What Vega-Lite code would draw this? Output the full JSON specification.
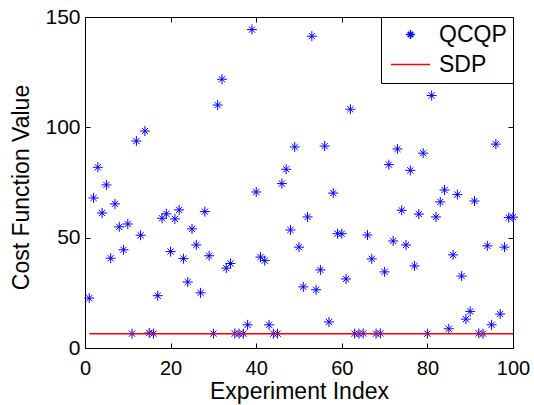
{
  "$schema": "https://vega.github.io/schema/vega-lite/v6.json",
  "width": 428,
  "height": 331,
  "autosize": {"type": "none"},
  "padding": {"left": 85, "top": 17, "right": 21, "bottom": 57},
  "background": "white",
  "config": {
    "font": "Liberation Sans",
    "view": {"stroke": "black", "strokeWidth": 1},
    "axis": {
      "grid": false,
      "domainColor": "black",
      "tickColor": "black",
      "tickSize": -5,
      "labelColor": "black",
      "titleColor": "black",
      "labelFont": "Liberation Sans",
      "titleFont": "Liberation Sans",
      "labelFontSize": 21,
      "titleFontSize": 23,
      "titleFontWeight": "normal"
    },
    "legend": {
      "labelFont": "Liberation Sans",
      "labelFontSize": 23,
      "labelColor": "black"
    }
  },
  "data": {
    "values": [
      {"i": 1, "v": 22.6, "s": "QCQP"},
      {"i": 2, "v": 68.0, "s": "QCQP"},
      {"i": 3, "v": 81.9, "s": "QCQP"},
      {"i": 4, "v": 61.2, "s": "QCQP"},
      {"i": 5, "v": 73.9, "s": "QCQP"},
      {"i": 6, "v": 40.7, "s": "QCQP"},
      {"i": 7, "v": 65.3, "s": "QCQP"},
      {"i": 8, "v": 54.9, "s": "QCQP"},
      {"i": 9, "v": 44.5, "s": "QCQP"},
      {"i": 10, "v": 56.2, "s": "QCQP"},
      {"i": 11, "v": 6.5, "s": "QCQP"},
      {"i": 12, "v": 93.8, "s": "QCQP"},
      {"i": 13, "v": 51.1, "s": "QCQP"},
      {"i": 14, "v": 98.3, "s": "QCQP"},
      {"i": 15, "v": 6.8, "s": "QCQP"},
      {"i": 16, "v": 6.5, "s": "QCQP"},
      {"i": 17, "v": 23.7, "s": "QCQP"},
      {"i": 18, "v": 58.8, "s": "QCQP"},
      {"i": 19, "v": 60.8, "s": "QCQP"},
      {"i": 20, "v": 43.7, "s": "QCQP"},
      {"i": 21, "v": 58.5, "s": "QCQP"},
      {"i": 22, "v": 62.6, "s": "QCQP"},
      {"i": 23, "v": 40.5, "s": "QCQP"},
      {"i": 24, "v": 29.9, "s": "QCQP"},
      {"i": 25, "v": 54.0, "s": "QCQP"},
      {"i": 26, "v": 46.7, "s": "QCQP"},
      {"i": 27, "v": 25.0, "s": "QCQP"},
      {"i": 28, "v": 61.8, "s": "QCQP"},
      {"i": 29, "v": 41.8, "s": "QCQP"},
      {"i": 30, "v": 6.5, "s": "QCQP"},
      {"i": 31, "v": 110.1, "s": "QCQP"},
      {"i": 32, "v": 121.8, "s": "QCQP"},
      {"i": 33, "v": 36.2, "s": "QCQP"},
      {"i": 34, "v": 38.3, "s": "QCQP"},
      {"i": 35, "v": 6.6, "s": "QCQP"},
      {"i": 36, "v": 6.5, "s": "QCQP"},
      {"i": 37, "v": 6.5, "s": "QCQP"},
      {"i": 38, "v": 10.5, "s": "QCQP"},
      {"i": 39, "v": 144.3, "s": "QCQP"},
      {"i": 40, "v": 70.7, "s": "QCQP"},
      {"i": 41, "v": 41.2, "s": "QCQP"},
      {"i": 42, "v": 39.6, "s": "QCQP"},
      {"i": 43, "v": 10.5, "s": "QCQP"},
      {"i": 44, "v": 6.5, "s": "QCQP"},
      {"i": 45, "v": 6.5, "s": "QCQP"},
      {"i": 46, "v": 74.5, "s": "QCQP"},
      {"i": 47, "v": 81.0, "s": "QCQP"},
      {"i": 48, "v": 53.5, "s": "QCQP"},
      {"i": 49, "v": 91.1, "s": "QCQP"},
      {"i": 50, "v": 45.7, "s": "QCQP"},
      {"i": 51, "v": 27.7, "s": "QCQP"},
      {"i": 52, "v": 59.4, "s": "QCQP"},
      {"i": 53, "v": 141.3, "s": "QCQP"},
      {"i": 54, "v": 26.4, "s": "QCQP"},
      {"i": 55, "v": 35.4, "s": "QCQP"},
      {"i": 56, "v": 91.5, "s": "QCQP"},
      {"i": 57, "v": 11.8, "s": "QCQP"},
      {"i": 58, "v": 70.2, "s": "QCQP"},
      {"i": 59, "v": 51.8, "s": "QCQP"},
      {"i": 60, "v": 51.8, "s": "QCQP"},
      {"i": 61, "v": 31.3, "s": "QCQP"},
      {"i": 62, "v": 108.2, "s": "QCQP"},
      {"i": 63, "v": 6.5, "s": "QCQP"},
      {"i": 64, "v": 6.5, "s": "QCQP"},
      {"i": 65, "v": 6.6, "s": "QCQP"},
      {"i": 66, "v": 51.2, "s": "QCQP"},
      {"i": 67, "v": 40.4, "s": "QCQP"},
      {"i": 68, "v": 6.5, "s": "QCQP"},
      {"i": 69, "v": 6.6, "s": "QCQP"},
      {"i": 70, "v": 34.5, "s": "QCQP"},
      {"i": 71, "v": 83.1, "s": "QCQP"},
      {"i": 72, "v": 48.5, "s": "QCQP"},
      {"i": 73, "v": 90.2, "s": "QCQP"},
      {"i": 74, "v": 62.4, "s": "QCQP"},
      {"i": 75, "v": 46.7, "s": "QCQP"},
      {"i": 76, "v": 80.5, "s": "QCQP"},
      {"i": 77, "v": 37.2, "s": "QCQP"},
      {"i": 78, "v": 60.7, "s": "QCQP"},
      {"i": 79, "v": 88.3, "s": "QCQP"},
      {"i": 80, "v": 6.5, "s": "QCQP"},
      {"i": 81, "v": 114.4, "s": "QCQP"},
      {"i": 82, "v": 59.4, "s": "QCQP"},
      {"i": 83, "v": 66.2, "s": "QCQP"},
      {"i": 84, "v": 71.6, "s": "QCQP"},
      {"i": 85, "v": 8.7, "s": "QCQP"},
      {"i": 86, "v": 42.2, "s": "QCQP"},
      {"i": 87, "v": 69.5, "s": "QCQP"},
      {"i": 88, "v": 32.6, "s": "QCQP"},
      {"i": 89, "v": 13.1, "s": "QCQP"},
      {"i": 90, "v": 16.6, "s": "QCQP"},
      {"i": 91, "v": 66.6, "s": "QCQP"},
      {"i": 92, "v": 6.6, "s": "QCQP"},
      {"i": 93, "v": 6.5, "s": "QCQP"},
      {"i": 94, "v": 46.3, "s": "QCQP"},
      {"i": 95, "v": 10.5, "s": "QCQP"},
      {"i": 96, "v": 92.4, "s": "QCQP"},
      {"i": 97, "v": 15.4, "s": "QCQP"},
      {"i": 98, "v": 45.7, "s": "QCQP"},
      {"i": 99, "v": 59.1, "s": "QCQP"},
      {"i": 100, "v": 59.3, "s": "QCQP"},
      {"i": 1, "v": 6.5, "s": "SDP"},
      {"i": 100, "v": 6.5, "s": "SDP"}
    ]
  },
  "resolve": {"axis": {"x": "independent", "y": "independent"}},
  "layer": [
    {
      "transform": [{"filter": "datum.s === 'QCQP'"}],
      "mark": {"type": "point", "filled": false, "strokeWidth": 1, "size": 494, "opacity": 1},
      "encoding": {
        "x": {
          "field": "i", "type": "quantitative",
          "scale": {"domain": [0, 100], "nice": false, "zero": false},
          "axis": {"orient": "bottom", "values": [0, 20, 40, 60, 80, 100], "title": "Experiment Index", "labelFontSize": 20, "labelPadding": 15, "titlePadding": 2, "labelFlush": false}
        },
        "y": {
          "field": "v", "type": "quantitative",
          "scale": {"domain": [0, 150], "nice": false},
          "axis": {"orient": "left", "values": [0, 50, 100, 150], "title": "Cost Function Value", "labelPadding": 10, "titlePadding": 11, "titleY": 170, "labelFlush": false}
        },
        "color": {
          "field": "s", "type": "nominal",
          "scale": {"domain": ["QCQP", "SDP"], "range": ["#0000ff", "#ff0000"]},
          "legend": {
            "title": null,
            "orient": "top-right",
            "offset": 0,
            "strokeColor": "black",
            "fillColor": "white",
            "padding": 6,
            "symbolOffset": 12,
            "labelOffset": 17,
            "rowPadding": 6,
            "symbolSize": 400,
            "symbolStrokeWidth": 1.5
          }
        },
        "shape": {
          "field": "s", "type": "nominal",
          "scale": {"domain": ["QCQP", "SDP"], "range": ["M-0.45,0L0.45,0M0,-0.45L0,0.45M-0.28,-0.28L0.28,0.28M-0.28,0.28L0.28,-0.28", "M-1.95,0L1.95,0"]},
          "legend": {
            "title": null,
            "orient": "top-right",
            "offset": 0,
            "strokeColor": "black",
            "fillColor": "white",
            "padding": 6,
            "symbolOffset": 12,
            "labelOffset": 17,
            "rowPadding": 6,
            "symbolSize": 400,
            "symbolStrokeWidth": 1.5
          }
        }
      }
    },
    {
      "transform": [{"filter": "datum.s === 'SDP'"}],
      "mark": {"type": "line", "strokeWidth": 1.5},
      "encoding": {
        "x": {
          "field": "i", "type": "quantitative",
          "axis": {"orient": "top", "values": [0, 20, 40, 60, 80, 100], "labels": false, "title": null, "domain": false}
        },
        "y": {
          "field": "v", "type": "quantitative",
          "axis": {"orient": "right", "values": [0, 50, 100, 150], "labels": false, "title": null, "domain": false}
        },
        "color": {"field": "s", "type": "nominal"}
      }
    }
  ]
}
